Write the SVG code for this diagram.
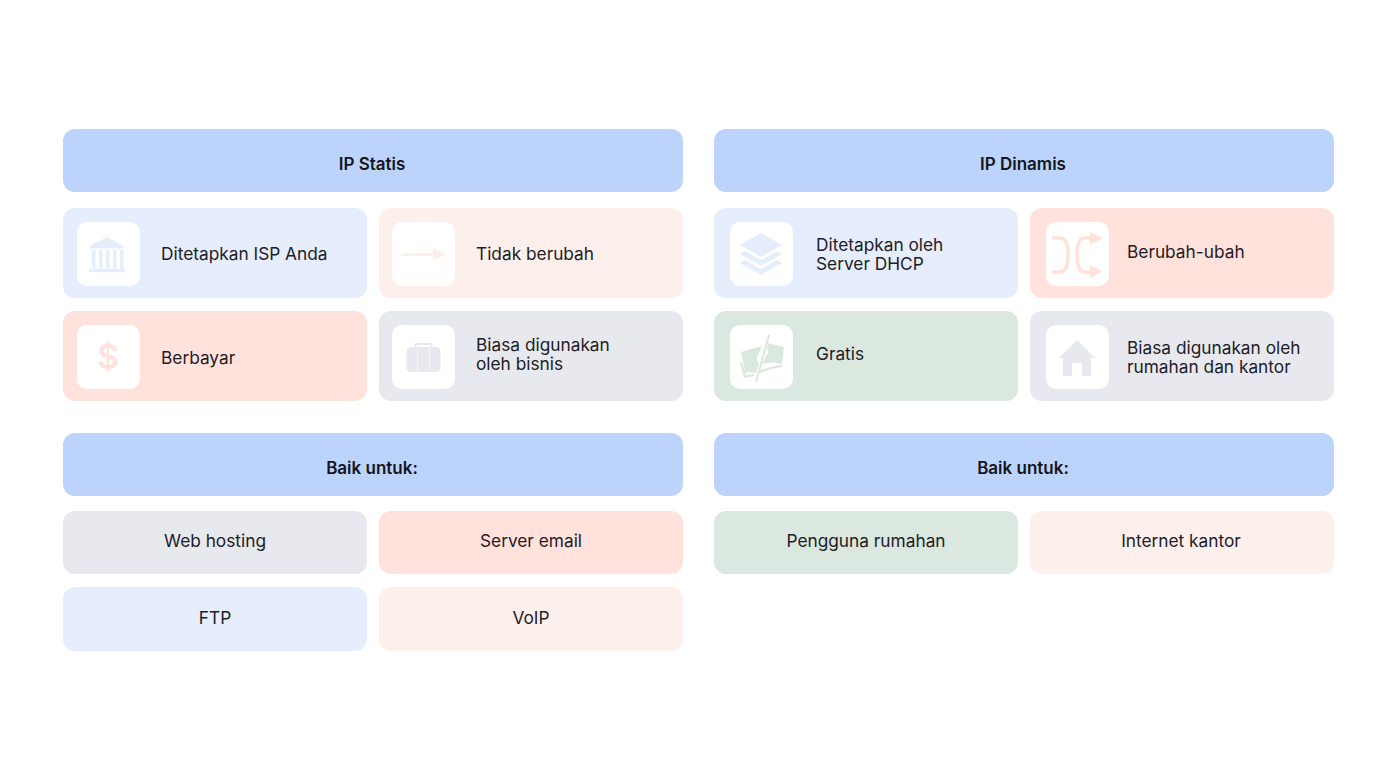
<svg xmlns="http://www.w3.org/2000/svg" width="1394" height="778" viewBox="0 0 1394 778">
<style>
text{font-family:"Inter","Liberation Sans",sans-serif;font-size:17.3px;fill:#1e2026}
.m{text-anchor:middle}
.h{font-weight:600;font-size:17px;fill:#14161c}
.hd{fill:#bcd4fc}.bl{fill:#e6edfd}.pk{fill:#fdefec}.sa{fill:#ffe2db}.gy{fill:#e8e8ef}.gn{fill:#dae8df}
.w{fill:#fff}
</style>
<rect width="1394" height="778" fill="#fff"/>
<g id="head-static"><rect class="hd" x="63" y="129" width="620" height="63" rx="12"/><text class="m h" x="372" y="170">IP Statis</text></g>
<g id="head-dynamic"><rect class="hd" x="714" y="129" width="620" height="63" rx="12"/><text class="m h" x="1023" y="170">IP Dinamis</text></g>
<g id="card-isp"><rect class="bl" x="63" y="208" width="304" height="90" rx="12"/><rect class="w" x="77" y="222" width="63" height="64" rx="10"/>
<path class="bl" d="M107 237l17 9v2.500H90v-2.500zM92 250h3.500v18H92zM99 250h3.500v18H99zM106 250h3.500v18H106zM113 250h3.500v18H113zM120 250h3.500v18H120zM89 268.500h36v3.500H89z"/>
<text x="161" y="260">Ditetapkan ISP Anda</text></g>
<g id="card-fixed"><rect class="pk" x="379" y="208" width="304" height="90" rx="12"/><rect class="w" x="392" y="222" width="63" height="64" rx="10"/>
<path class="pk" d="M401 253h33v3h-33zM433 248l12 6.500-12 6.500z"/>
<text x="476" y="260">Tidak berubah</text></g>
<g id="card-paid"><rect class="sa" x="63" y="311" width="304" height="90" rx="12"/><rect class="w" x="77" y="325" width="63" height="64" rx="10"/>
<text x="108" y="369" class="m" style="font-size:34px;font-weight:600;fill:#ffe2db">$</text>
<text x="161" y="364">Berbayar</text></g>
<g id="card-business"><rect class="gy" x="379" y="311" width="304" height="90" rx="12"/><rect class="w" x="392" y="325" width="63" height="64" rx="10"/>
<path class="gy" d="M411 347h3.500v-2q0-2 2-2h14q2 0 2 2v2h3.500q4 0 4.500 4v17q-.5 4-4.500 4h-25q-4 0-4.500-4v-17q.5-4 4.500-4zM416.500 347h14v-2h-14z"/>
<path d="M417.500 347v25M429.500 347v25" stroke="#f6f6f9" stroke-width="1" fill="none"/>
<text x="476" y="351">Biasa digunakan</text><text x="476" y="370">oleh bisnis</text></g>
<g id="card-dhcp"><rect class="bl" x="714" y="208" width="304" height="90" rx="12"/><rect class="w" x="730" y="222" width="63" height="64" rx="10"/>
<path class="bl" d="M761 233l21 12-21 12-21-12zM745 251l16 9 16-9 5 3-21 12-21-12zM745 260l16 9 16-9 5 3-21 12-21-12z"/>
<text x="816" y="251">Ditetapkan oleh</text><text x="816" y="270">Server DHCP</text></g>
<g id="card-change"><rect class="sa" x="1030" y="208" width="304" height="90" rx="12"/><rect class="w" x="1046" y="222" width="63" height="64" rx="10"/>
<path d="M1052 238h8c6 0 8 7 8 16s-2 18-8 18h-8M1092 238h-7c-6 0-8 7-8 16s2 18 8 18h7" fill="none" stroke="#ffe2db" stroke-width="3.500"/><path class="sa" d="M1090 232l12.500 6.500-12.500 6.500zM1090 265l12.500 6.500-12.500 6.500z"/>
<text x="1127" y="258">Berubah-ubah</text></g>
<g id="card-free"><rect class="gn" x="714" y="311" width="304" height="90" rx="12"/><rect class="w" x="730" y="325" width="63" height="64" rx="10"/>
<path class="gn" d="M741 352l21-6-4 9q-3 4 1 8l-3 10-11-1zM768 343l16 4-2 17q-10-3-19 0l3-8q4-4 1-7zM740 363l4 15 10-2v-2l-8 1-4-13zM759 371q11-5 23-6v2q-12 1-24 7z"/>
<path d="M769 335l-13 47" stroke="#dae8df" stroke-width="2" fill="none"/>
<text x="816" y="360">Gratis</text></g>
<g id="card-home"><rect class="gy" x="1030" y="311" width="304" height="90" rx="12"/><rect class="w" x="1046" y="325" width="63" height="64" rx="10"/>
<path class="gy" d="M1077 340l18 18h-4v18h-9v-13h-10v13h-9v-18h-4z"/>
<text x="1127" y="354">Biasa digunakan oleh</text><text x="1127" y="373">rumahan dan kantor</text></g>
<g id="head-good-static"><rect class="hd" x="63" y="433" width="620" height="63" rx="12"/><text class="m h" x="372" y="474">Baik untuk:</text></g>
<g id="head-good-dynamic"><rect class="hd" x="714" y="433" width="620" height="63" rx="12"/><text class="m h" x="1023" y="474">Baik untuk:</text></g>
<g id="good-web"><rect class="gy" x="63" y="511" width="304" height="63" rx="12"/><text class="m" x="215" y="547">Web hosting</text></g>
<g id="good-email"><rect class="sa" x="379" y="511" width="304" height="63" rx="12"/><text class="m" x="531" y="547">Server email</text></g>
<g id="good-ftp"><rect class="bl" x="63" y="587" width="304" height="64" rx="12"/><text class="m" x="215" y="624">FTP</text></g>
<g id="good-voip"><rect class="pk" x="379" y="587" width="304" height="64" rx="12"/><text class="m" x="531" y="624">VoIP</text></g>
<g id="good-home"><rect class="gn" x="714" y="511" width="304" height="63" rx="12"/><text class="m" x="866" y="547">Pengguna rumahan</text></g>
<g id="good-office"><rect class="pk" x="1030" y="511" width="304" height="63" rx="12"/><text class="m" x="1181" y="547">Internet kantor</text></g>
<g id="connectors"></g>
</svg>
